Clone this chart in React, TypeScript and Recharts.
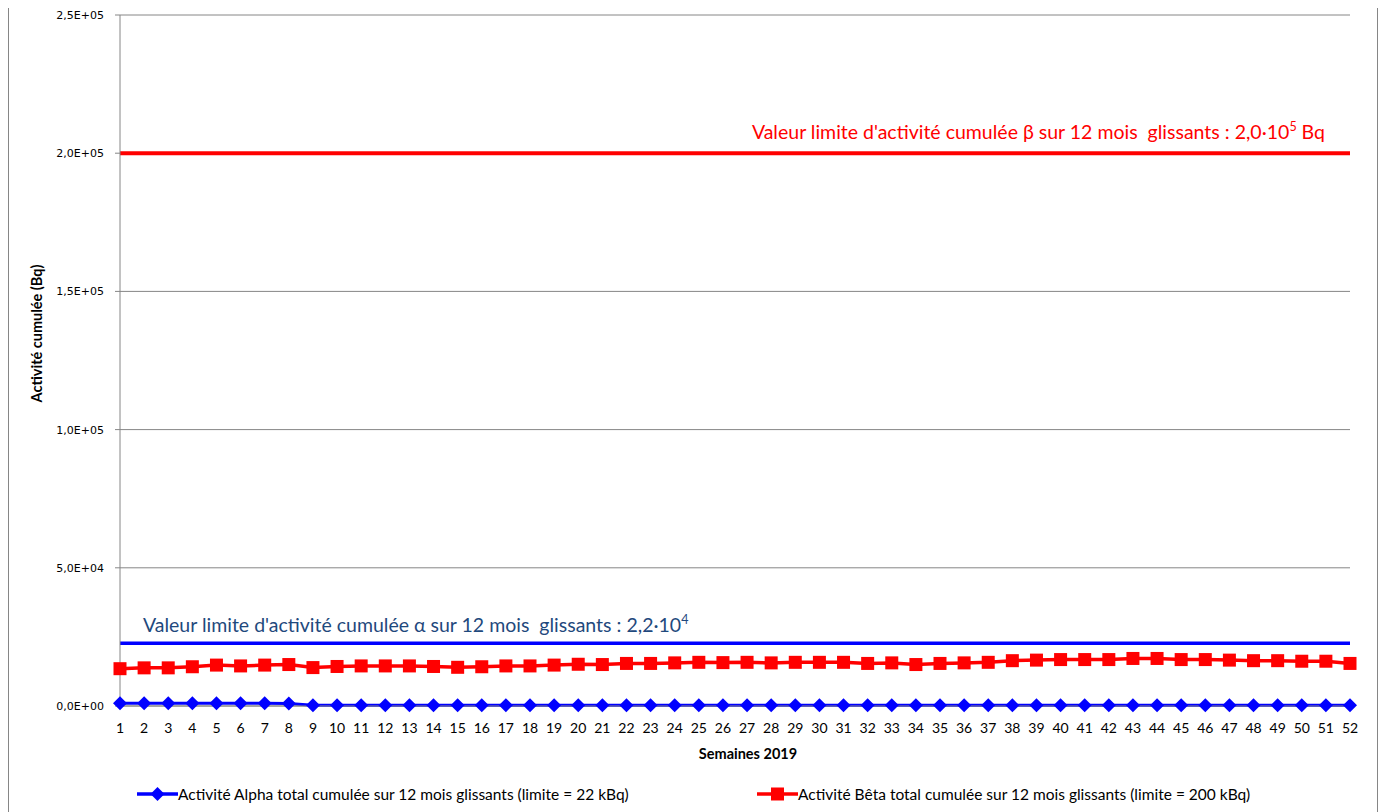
import React from 'react';
import { LineChart, Line, XAxis, YAxis, CartesianGrid, ReferenceLine, Legend } from 'recharts';

const weeks = [1, 2, 3, 4, 5, 6, 7, 8, 9, 10, 11, 12, 13, 14, 15, 16, 17, 18, 19, 20, 21, 22, 23, 24, 25, 26,
  27, 28, 29, 30, 31, 32, 33, 34, 35, 36, 37, 38, 39, 40, 41, 42, 43, 44, 45, 46, 47, 48, 49, 50, 51, 52];

const alphaCumul = [1000, 1000, 1000, 950, 950, 950, 950, 900, 300, 300, 300, 300, 300, 300, 300, 300, 300,
  300, 300, 250, 250, 250, 250, 250, 250, 250, 250, 250, 250, 250, 250, 250, 250, 250, 250, 250, 250, 250,
  250, 250, 250, 250, 250, 250, 250, 250, 250, 250, 250, 250, 250, 250];

const betaCumul = [13500, 13800, 13800, 14200, 14800, 14500, 14800, 15000, 13900, 14300, 14500, 14500, 14500,
  14300, 14000, 14200, 14500, 14500, 14800, 15100, 15000, 15400, 15400, 15600, 15800, 15700, 15800, 15600,
  15800, 15800, 15800, 15400, 15600, 15000, 15400, 15600, 15800, 16400, 16600, 16800, 16800, 16800, 17200,
  17200, 16800, 16800, 16600, 16400, 16400, 16200, 16200, 15400];

const yMajorTicks = [0, 50000, 100000, 150000, 200000, 250000];
const yMinorTicks = [0, 10000, 20000, 30000, 40000, 50000, 60000, 70000, 80000, 90000, 100000, 110000, 120000,
  130000, 140000, 150000, 160000, 170000, 180000, 190000, 200000, 210000, 220000, 230000, 240000, 250000];

const ALPHA_LIMIT = 22700;
const BETA_LIMIT = 200000;

const TITLE = 'Suivi des prélèvements environnementaux - cumuls annuels - LAN-U-ISOS-102';
const ALPHA_NAME = 'Activité Alpha total cumulée sur 12 mois glissants (limite = 22 kBq)';
const BETA_NAME = 'Activité Bêta total cumulée sur 12 mois glissants (limite = 200 kBq)';

const data = weeks.map((w, i) => ({ week: w, alpha: alphaCumul[i], beta: betaCumul[i] }));

const BLUE = '#0000FF';
const RED = '#FF0000';
const GRID = '#868686';
const FONT = 'Lato, "Open Sans", sans-serif';

const fmtSci = (v: number) => {
  if (v === 0) return '0,0E+00';
  const e = Math.floor(Math.log10(v));
  const m = v / Math.pow(10, e);
  return m.toFixed(1).replace('.', ',') + 'E+' + String(e).padStart(2, '0');
};

const DiamondDot = (props: any) => {
  const { cx, cy, index } = props;
  if (cx == null || cy == null) return <g key={`ad-${index}`} />;
  const r = 7;
  return (
    <polygon key={`ad-${index}`} points={`${cx},${cy - r} ${cx + r},${cy} ${cx},${cy + r} ${cx - r},${cy}`} fill={BLUE} />
  );
};

const SquareDot = (props: any) => {
  const { cx, cy, index } = props;
  if (cx == null || cy == null) return <g key={`bd-${index}`} />;
  const s = 13;
  return <rect key={`bd-${index}`} x={cx - s / 2} y={cy - s / 2} width={s} height={s} fill={RED} />;
};

const LegendContent = (props: any) => {
  const { payload } = props;
  return (
    <div style={{ display: 'flex', paddingLeft: 128, fontFamily: FONT, fontSize: 15.5, color: '#000' }}>
      {(payload || []).map((entry: any) => (
        <div key={entry.dataKey} style={{ display: 'flex', alignItems: 'center', width: 623 }}>
          <svg width={41} height={16} style={{ display: 'block' }}>
            <line x1={0} x2={41} y1={8} y2={8} stroke={entry.color} strokeWidth={3.5} />
            {entry.dataKey === 'alpha' ? (
              <polygon points="20.5,1 27.5,8 20.5,15 13.5,8" fill={entry.color} />
            ) : (
              <rect x={14} y={1.5} width={13} height={13} fill={entry.color} />
            )}
          </svg>
          <span style={{ whiteSpace: 'nowrap' }}>{entry.value}</span>
        </div>
      ))}
    </div>
  );
};

const AlphaLimitLabel = (props: any) => {
  const vb = props.viewBox;
  const x = vb.x + 23;
  const y = vb.y - 11;
  return (
    <text x={x} y={y} fill="#1F497D" fontFamily={FONT} fontSize={19.5} style={{ whiteSpace: 'pre' }}>
      <tspan>{"Valeur limite d'activité cumulée α sur 12 mois  glissants : 2,2·10"}</tspan>
      <tspan dy={-8} fontSize={12.5}>4</tspan>
    </text>
  );
};

const BetaLimitLabel = (props: any) => {
  const vb = props.viewBox;
  const x = vb.x + vb.width - 25;
  const y = vb.y - 14.5;
  return (
    <text x={x} y={y} fill={RED} fontFamily={FONT} fontSize={19.5} textAnchor="end" style={{ whiteSpace: 'pre' }}>
      <tspan>{"Valeur limite d'activité cumulée β sur 12 mois  glissants : 2,0·10"}</tspan>
      <tspan dy={-8} fontSize={12.5}>5</tspan>
      <tspan dy={8}>{' Bq'}</tspan>
    </text>
  );
};

const YTitle = (props: any) => {
  const vb = props.viewBox;
  const x = vb.x + 16;
  const y = vb.y + vb.height / 2 - 27;
  return (
    <text x={x} y={y} transform={`rotate(-90 ${x} ${y})`} textAnchor="middle" dominantBaseline="central"
      fontFamily={FONT} fontWeight="bold" fontSize={14.5} fill="#000">
      Activité cumulée (Bq)
    </text>
  );
};

const XTitle = (props: any) => {
  const vb = props.viewBox;
  const x = vb.x + vb.width / 2 + 13;
  const y = vb.y + 53;
  return (
    <text x={x} y={y} textAnchor="middle" fontFamily={FONT} fontWeight="bold" fontSize={14.5} fill="#000">
      Semaines 2019
    </text>
  );
};

export default function App() {
  return (
    <div style={{ position: 'relative', top: -38, width: 1368, height: 860, border: `1px solid ${GRID}`, background: '#fff' }}>
      <div style={{ position: 'absolute', top: 17, left: 423, fontFamily: FONT, fontSize: 17, lineHeight: '20px', color: '#000', whiteSpace: 'nowrap' }}>
        {TITLE}
      </div>
      <LineChart width={1368} height={860} data={data} margin={{ top: 44, right: 27, bottom: 65, left: 11 }}>
        <CartesianGrid yAxisId="y" vertical={false} stroke={GRID} strokeWidth={1} />
        <YAxis yAxisId="minor" orientation="left" width={0} domain={[0, 250000]} ticks={yMinorTicks}
          type="number" tick={false} axisLine={false} tickLine={{ stroke: GRID }} tickSize={5} interval={0} />
        <YAxis yAxisId="y" orientation="left" width={100} domain={[0, 250000]} ticks={yMajorTicks} type="number"
          interval={0} tickFormatter={fmtSci} axisLine={{ stroke: GRID }} tickLine={{ stroke: GRID }} tickSize={5}
          tickMargin={11} tick={{ fontFamily: 'DejaVu Sans, Verdana, sans-serif', fontSize: 11, fill: '#000' }}
          label={{ content: YTitle }} />
        <XAxis dataKey="week" type="category" interval={0} padding={{ left: 0, right: 0 }} height={60}
          axisLine={{ stroke: GRID }} tickLine={false} tickSize={0} tickMargin={17}
          tick={{ fontFamily: FONT, fontSize: 14, fill: '#000' }} label={{ content: XTitle }} />
        <ReferenceLine yAxisId="y" y={BETA_LIMIT} stroke={RED} strokeWidth={4} label={BetaLimitLabel} />
        <ReferenceLine yAxisId="y" y={ALPHA_LIMIT} stroke={BLUE} strokeWidth={3.5} label={AlphaLimitLabel} />
        <Line yAxisId="y" type="linear" dataKey="alpha" name={ALPHA_NAME} stroke={BLUE} strokeWidth={3}
          dot={DiamondDot} activeDot={false} isAnimationActive={false} />
        <Line yAxisId="y" type="linear" dataKey="beta" name={BETA_NAME} stroke={RED} strokeWidth={3.5}
          dot={SquareDot} activeDot={false} isAnimationActive={false} />
        <Legend layout="horizontal" verticalAlign="middle" align="center" content={LegendContent}
          wrapperStyle={{ top: 814, left: 0, width: 1368 }} />
      </LineChart>
    </div>
  );
}
